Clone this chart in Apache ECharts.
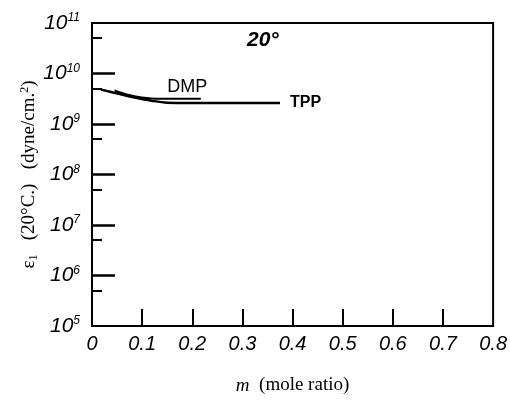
<!DOCTYPE html>
<html>
<head>
<meta charset="utf-8">
<script src="https://cdn.jsdelivr.net/npm/echarts@6/dist/echarts.min.js"></script>
<style>
  html, body { margin: 0; padding: 0; background: #fff; }
  #chart { width: 510px; height: 400px; }
</style>
</head>
<body>
<div id="chart"></div>
<script>
// Mole ratio m and modulus ε1 (dyne/cm²) at 20°C for the two plasticizers
const tppM = [0.018, 0.051, 0.085, 0.118, 0.150, 0.25, 0.375];
const tppE = [4.8e9, 4.0e9, 3.35e9, 2.9e9, 2.65e9, 2.6e9, 2.6e9];
const dmpM = [0.045, 0.071, 0.118, 0.164, 0.217];
const dmpE = [4.6e9, 3.8e9, 3.2e9, 3.15e9, 3.15e9];

// Axis ticks
const xTicks = [0, 0.1, 0.2, 0.3, 0.4, 0.5, 0.6, 0.7, 0.8];
const yMajorTicks = [1e6, 1e7, 1e8, 1e9, 1e10];
const yMinorTicks = [5e5, 5e6, 5e7, 5e8, 5e9, 5e10];

const hand = 'Liberation Sans';
const serif = 'Liberation Serif';

const chart = echarts.init(document.getElementById('chart'));

const pair = (xs, ys) => xs.map((x, i) => [x, ys[i]]);

chart.setOption({
  animation: false,
  backgroundColor: '#fff',
  grid: {
    left: 92, right: 12, top: 23, bottom: 72,
    show: true, borderColor: '#000', borderWidth: 2, backgroundColor: 'transparent'
  },
  xAxis: {
    type: 'value',
    min: 0, max: 0.8, interval: 0.1,
    name: '{i|m}  (mole ratio)',
    nameLocation: 'middle',
    nameGap: 50,
    nameTextStyle: {
      fontFamily: serif, fontSize: 19, color: '#000',
      rich: { i: { fontFamily: serif, fontStyle: 'italic', fontSize: 19, color: '#000' } }
    },
    axisLine: { lineStyle: { color: '#000', width: 2 } },
    axisTick: {
      inside: true, length: 17, lineStyle: { color: '#000', width: 2 },
      customValues: xTicks.slice(1, -1)
    },
    axisLabel: {
      fontFamily: hand, fontStyle: 'italic', fontSize: 20, color: '#000', margin: 8,
      customValues: xTicks,
      formatter: v => v === 0 ? '0' : v.toFixed(1)
    },
    splitLine: { show: false }
  },
  yAxis: [{
    type: 'log',
    logBase: 10,
    min: 1e5, max: 1e11,
    name: '{e|ε}{s|1}   (20°C.)   (dyne/cm.{p|2})',
    nameLocation: 'middle',
    nameGap: 52,
    nameMoveOverlap: false,
    nameTextStyle: {
      fontFamily: serif, fontSize: 19, color: '#000',
      rich: {
        e: { fontFamily: serif, fontSize: 19, color: '#000' },
        s: { fontFamily: serif, fontSize: 12, color: '#000', verticalAlign: 'bottom', padding: [9, 0, 0, 0] },
        p: { fontFamily: serif, fontSize: 12, color: '#000', verticalAlign: 'top', padding: [0, 0, 9, 0] }
      }
    },
    axisLine: { lineStyle: { color: '#000', width: 2 } },
    axisTick: {
      inside: true, length: 23, lineStyle: { color: '#000', width: 2.5 },
      customValues: yMajorTicks
    },
    minorTick: { show: false },
    axisLabel: {
      margin: 12,
      formatter: v => '{b|10}{x|' + Math.round(Math.log10(v)) + '}',
      rich: {
        b: { fontFamily: hand, fontStyle: 'italic', fontSize: 21, color: '#000' },
        x: { fontFamily: hand, fontStyle: 'italic', fontSize: 12, color: '#000', verticalAlign: 'top', padding: [0, 0, 10, 0] }
      }
    },
    splitLine: { show: false }
  }, {
    // short ticks at 5×10^n along the left edge
    type: 'log',
    logBase: 10,
    min: 1e5, max: 1e11,
    position: 'left',
    axisLine: { show: false },
    axisLabel: { show: false },
    axisTick: {
      inside: true, length: 10, lineStyle: { color: '#000', width: 2 },
      customValues: yMinorTicks
    },
    splitLine: { show: false }
  }],
  series: [{
    name: 'TPP',
    type: 'line',
    data: pair(tppM, tppE),
    smooth: 0.35,
    symbol: 'none',
    lineStyle: { color: '#000', width: 2.5 },
    endLabel: {
      show: true, formatter: 'TPP', distance: 10,
      fontFamily: hand, fontWeight: 'bold', fontSize: 16, color: '#000'
    }
  }, {
    name: 'DMP',
    type: 'line',
    data: pair(dmpM, dmpE),
    smooth: 0.35,
    symbol: 'none',
    lineStyle: { color: '#000', width: 2 },
    markPoint: {
      symbol: 'circle',
      symbolSize: 0,
      data: [{ coord: [0.19, 3.15e9] }],
      label: {
        show: true, formatter: 'DMP', position: 'top', distance: 3,
        fontFamily: hand, fontSize: 18, color: '#000'
      }
    }
  }],
  graphic: [{
    type: 'text',
    left: 247, top: 30,
    style: { text: '20°', fontFamily: hand, fontStyle: 'italic', fontWeight: 'bold', fontSize: 21, fill: '#000' }
  }]
});
</script>
</body>
</html>
